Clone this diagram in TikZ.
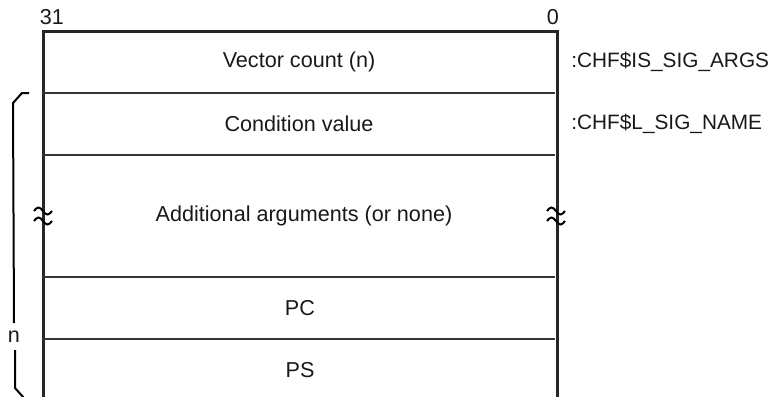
\documentclass[tikz,border=0pt]{standalone}
\usepackage{fontspec}
\setmainfont{Liberation Sans}
\usetikzlibrary{positioning}

\begin{document}
\begin{tikzpicture}[x=0.5pt,y=-0.5pt]
            \tikzset{every node/.style={font=\fontsize{10.8}{12}\selectfont, inner sep=0pt, text=black!90},
                    symname/.style={anchor=west, font=\fontsize{10.4}{12}\selectfont},
                    wall/.style={draw=black!85, line width=1.5pt},
                    field/.style={draw=black!80, line width=1pt},
                    squiggle/.style={draw=black, line width=1pt},
                    brace/.style={draw=black, line width=1pt}}
            \useasboundingbox (0,0) rectangle (773,397);
            \draw[wall] (43,397) -- (43,31) -- (557,31) -- (557,397);
            \foreach \y in {93,155,277,339}
                \draw[field] (43,\y) -- (555,\y);
            \node (hi) at (52,17) {31};
            \node (lo) at (553,17) {0};
            \node (count) at (299,62) {Vector count (n)};
            \node (cond) at (299,124) {Condition value};
            \node (args) at (304,216) {Additional arguments (or none)};
            \node (pc) at (300,308) {PC};
            \node (ps) at (300,370) {PS};
            \node[symname] (argsname) at (571,62) {:CHF\$IS\_SIG\_ARGS};
            \node[symname] (signame) at (571,124) {:CHF\$L\_SIG\_NAME};
            \node (n) at (14,337) {n};
            % break marks on both sides
            \foreach \x in {43,556}
                \foreach \y in {211,221}
                    \draw[squiggle] (\x-9,\y) sin (\x-4.5,\y-3.5) cos (\x,\y) sin (\x+4.5,\y+3.5) cos (\x+9,\y);
            % bracket
            \coordinate (top) at (29,93);
            \coordinate (bot) at (24,398);
            \draw[brace] (top) -- (22,93) -- (13,103) -- (n.north |- 0,323);
            \draw[brace] (15,350) -- (15,388) -- (bot);
        \end{tikzpicture}
\end{document}
